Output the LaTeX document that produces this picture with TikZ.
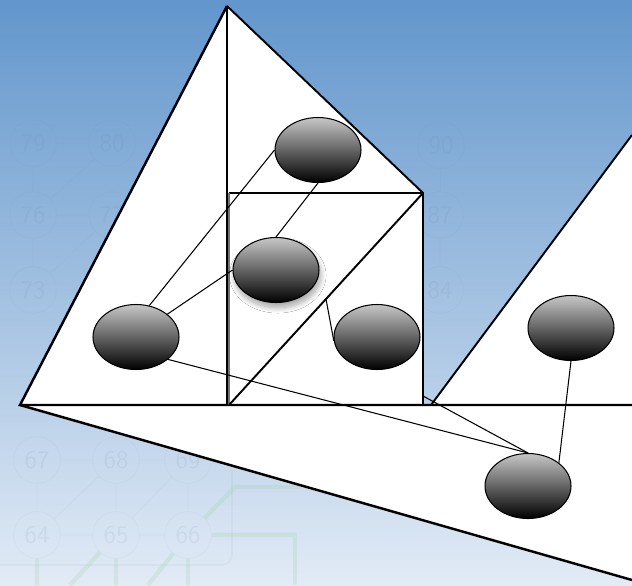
\documentclass[tikz,border=0pt]{standalone}
\usepackage{tikz}
\usetikzlibrary{positioning,calc,shapes.geometric,shadows.blur}

\definecolor{skytop}{RGB}{98,150,204}
\definecolor{skybottom}{RGB}{226,235,246}
\definecolor{gridgray}{RGB}{110,125,145}
\definecolor{gridgreen}{RGB}{150,205,150}

\begin{document}
\begin{tikzpicture}[x=0.02cm, y=-0.02cm,
    blob/.style={ellipse, draw=black, line width=0.6pt, minimum width=1.72cm, minimum height=1.3cm, inner sep=0pt, top color=black!22, bottom color=black},
    link/.style={black, line width=0.6pt},
    rim/.style={black, line width=1.4pt},
    face/.style={black, line width=1.1pt},
    numdisc/.style={circle, draw=gridgray, draw opacity=0.06, minimum size=0.88cm, text=gridgray, text opacity=0.1, font=\sffamily\Large}]
    % sky
    \shade[top color=skytop, bottom color=skybottom] (0,0) rectangle (632,585);
    \useasboundingbox (0,0) rectangle (632,585);

    % faint numbered grid behind
    \foreach \n/\x/\y in {79/33/143, 80/112/143, 90/441/145, 76/33/215, 77/112/215, 87/440/215, 73/33/290, 84/440/290, 67/37/460, 68/116/460, 69/188/460, 64/37/535, 65/116/535, 66/188/535}
        \node[numdisc] (w\n) at (\x,\y) {\n};
    \draw[gridgray, opacity=0.06] (w79) -- (w80) (w76) -- (w77) (w79) -- (w76) -- (w73) (w73) -- (w77) (w76) -- (w80)
        (w90) -- (w87) -- (w84)
        (w67) -- (w68) -- (w69) (w64) -- (w65) -- (w66) (w67) -- (w64) (w68) -- (w65) (w69) -- (w66) (w64) -- (w68) (w65) -- (w69);
    \draw[gridgray, opacity=0.06, line width=1pt, rounded corners=6pt] (232,470) -- (232,565) -- (0,565);
    \draw[gridgreen, opacity=0.2, line width=2.5pt] (w64.south) -- (37,585) (w65.south) -- (116,585) (w66.south) -- (188,585)
        (w65) -- (70,585) (w66) -- (148,585);
    \draw[gridgreen, opacity=0.2, line width=2.5pt] (w66) -- (295,535) -- (295,585);
    \draw[gridgreen, opacity=0.2, line width=2.5pt] (w66) -- (235,487) -- (300,487);

    % white faces
    \coordinate (apex) at (227,6);
    \coordinate (left) at (20,405);
    \coordinate (foot) at (227,405);
    \coordinate (sqtl) at (229,193);
    \coordinate (sqtr) at (423,193);
    \coordinate (sqbr) at (423,405);
    \coordinate (sqbl) at (229,405);
    \coordinate (rtop) at (632,135);
    \coordinate (rfoot) at (431,405);
    \coordinate (rcorner) at (632,405);
    \coordinate (tail) at (632,580);
    \fill[white] (apex) -- (sqtr) -- (sqbr) -- (left) -- cycle;
    \fill[white] (rtop) -- (rfoot) -- (rcorner) -- cycle;
    \fill[white] (left) -- (rcorner) -- (tail) -- cycle;

    % edges
    \draw[rim] (apex) -- (left) -- (rcorner);
    \draw[rim] (left) -- (tail);
    \draw[rim] (apex) -- (foot);
    \draw[face] (apex) -- (sqtr) -- (sqbr);
    \draw[face] (sqtl) -- (sqtr);
    \draw[black!55, line width=1pt] (sqtl) -- (sqbl);
    \draw[face] (sqbl) -- (sqtr);
    \draw[face] (rtop) -- (rfoot);

    % blobs
    \node[blob] (n1) at (318,150) {};
    \node[blob, blur shadow={shadow xshift=1pt, shadow yshift=-3pt, shadow blur radius=3pt, shadow blur steps=12, shadow opacity=35}] (n2) at (276,270) {};
    \node[blob] (n3) at (136,337) {};
    \node[blob] (n4) at (377,337) {};
    \node[blob] (n5) at (571,328) {};
    \node[blob] (n6) at (528,486) {};

    % links
    \coordinate (mid) at ($(sqbl)!0.5!(sqtr)$);
    \coordinate (side) at (423,396);
    \draw[link] (n1.west) -- (n3.67);
    \draw[link] (n1.south) -- (n2.north);
    \draw[link] (n2.west) -- (n3.36);
    \draw[link] (n3.-35) -- (n6.north);
    \draw[link] (mid) -- (n4.185);
    \draw[link] (side) -- (n6.north);
    \draw[link] (n5.south) -- (n6.37);
\end{tikzpicture}
\end{document}
